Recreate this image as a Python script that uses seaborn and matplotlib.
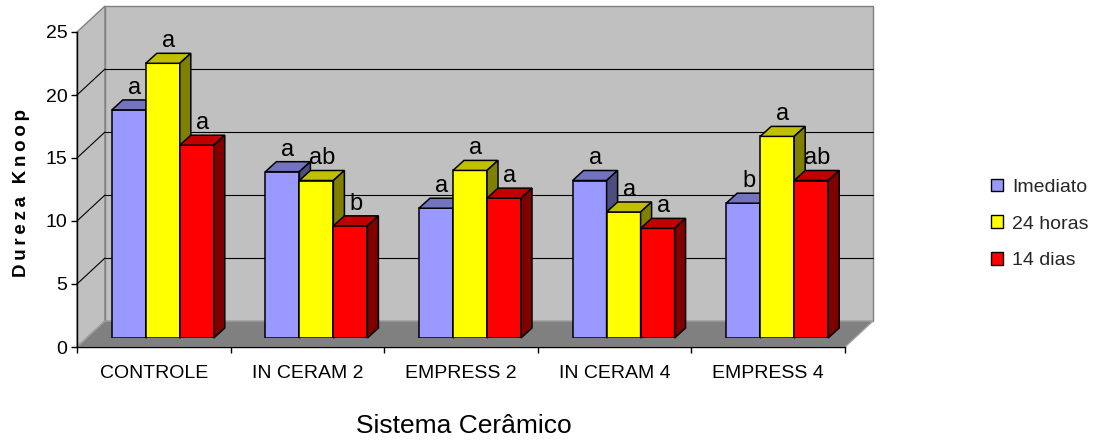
import numpy as np
import pandas as pd
import seaborn as sns
import matplotlib.pyplot as plt
from matplotlib.patches import Polygon, Patch
from matplotlib.ticker import FixedLocator


# Data
sistemas = ['CONTROLE', 'IN CERAM 2', 'EMPRESS 2', 'IN CERAM 4', 'EMPRESS 4']
tempos = ['Imediato', '24 horas', '14 dias']

imediato = [18.1, 13.2, 10.3, 12.5, 10.7]
horas_24 = [21.8, 12.5, 13.3, 10.0, 16.0]
dias_14 = [15.3, 8.9, 11.1, 8.7, 12.5]

letras_imediato = ['a', 'a', 'a', 'a', 'b']
letras_24 = ['a', 'ab', 'a', 'a', 'a']
letras_14 = ['a', 'b', 'a', 'a', 'ab']

valores = {'Imediato': imediato, '24 horas': horas_24, '14 dias': dias_14}
letras = {'Imediato': letras_imediato, '24 horas': letras_24, '14 dias': letras_14}

df = pd.DataFrame(
    [(s, t, valores[t][i]) for t in tempos for i, s in enumerate(sistemas)],
    columns=['sistema', 'tempo', 'dureza']
)

# Excel-like 3D colours: front, top, side
frente = ['#9999FF', '#FFFF00', '#FF0000']
topo_cor = ['#7373BF', '#C0C000', '#C00000']
lado_cor = ['#4D4D80', '#808000', '#800000']

W, H = 1101, 441
DX, DY = 11, 10          # bar depth in pixels
BX, BY = 28, 26          # floor depth in pixels

sns.set_style("white")
plt.rcParams['font.family'] = ['Liberation Sans', 'DejaVu Sans']

fig = plt.figure(figsize=(W / 100, H / 100), dpi=100)


def px_box(left, top, right, bottom):
    return [left / W, 1 - bottom / H, (right - left) / W, (bottom - top) / H]


to_fig = fig.transFigure.inverted()


def face(axis, pts, z, **kw):
    p = Polygon(to_fig.transform(pts), closed=True, transform=fig.transFigure,
                clip_on=False, zorder=z, **kw)
    axis.add_artist(p)


# Front plane: axis lines, ticks, walls
ax_front = fig.add_axes(px_box(77, 32, 845, 347))
ax_front.set_facecolor('none')
ax_front.set_xlim(-0.5, 4.5)
ax_front.set_ylim(0, 25)

tr = ax_front.transData.transform
fl0 = np.array(tr((-0.5, 0)))
fr0 = np.array(tr((4.5, 0)))
fl25 = np.array(tr((-0.5, 25)))
fr25 = np.array(tr((4.5, 25)))
off = np.array([BX, BY])

face(ax_front, [fl0 + off, fr0 + off, fr25 + off, fl25 + off], 0.5,
     facecolor='#C0C0C0', edgecolor='#808080', lw=1)
face(ax_front, [fl0, fl0 + off, fl25 + off, fl25], 0.5,
     facecolor='#C0C0C0', edgecolor='#808080', lw=1)
face(ax_front, [fl0, fr0, fr0 + off, fl0 + off], 0.55,
     facecolor='#808080', edgecolor='#A0A0A0', lw=1)

for v in range(5, 25, 5):
    a = np.array(tr((-0.5, v)))
    b = np.array(tr((4.5, v)))
    ax_front.plot(*to_fig.transform([a + off, b + off]).T, color='black', lw=0.8,
                  transform=fig.transFigure, clip_on=False, zorder=0.6)
    ax_front.plot(*to_fig.transform([a, a + off]).T, color='black', lw=0.8,
                  transform=fig.transFigure, clip_on=False, zorder=0.6)

for side in ['top', 'right']:
    ax_front.spines[side].set_visible(False)
for side in ['left', 'bottom']:
    ax_front.spines[side].set_color('black')
    ax_front.spines[side].set_linewidth(1)

ax_front.set_yticks(range(0, 26, 5))
ax_front.set_xticks(range(len(sistemas)))
ax_front.set_xticklabels(sistemas)
ax_front.xaxis.set_minor_locator(FixedLocator(np.arange(-0.5, 5, 1)))
ax_front.tick_params(axis='x', which='major', bottom=True, length=0, pad=13,
                     labelsize=14, labelcolor='black')
ax_front.tick_params(axis='x', which='minor', bottom=True, length=4, width=1,
                     color='black', direction='out')
ax_front.tick_params(axis='y', left=True, length=4, width=1, color='black',
                     direction='out', pad=3, labelsize=14, labelcolor='black')

# Bars, drawn on a plane a bit behind the front axis
ax = fig.add_axes(px_box(86, 23, 854, 338))
sns.barplot(data=df, x='sistema', y='dureza', hue='tempo', order=sistemas,
            hue_order=tempos, palette=frente, saturation=1, width=0.664,
            edgecolor='black', linewidth=1.1, errorbar=None, legend=False, ax=ax)
ax.set_xlim(-0.5, 4.5)
ax.set_ylim(0, 25)
ax.set_facecolor('none')
ax.axis('off')

barras = sorted(ax.patches, key=lambda p: p.get_x())
for k, barra in enumerate(barras):
    i, j = divmod(k, 3)
    (x0, y0), (x1, y1) = ax.transData.transform(
        [(barra.get_x(), 0), (barra.get_x() + barra.get_width(), barra.get_height())])
    z = 2 + k * 0.01
    barra.set_zorder(z)
    face(ax, [(x0, y1), (x1, y1), (x1 + DX, y1 + DY), (x0 + DX, y1 + DY)], z,
         facecolor=topo_cor[j], edgecolor='black', lw=1.1)
    face(ax, [(x1, y0), (x1 + DX, y0 + DY), (x1 + DX, y1 + DY), (x1, y1)], z,
         facecolor=lado_cor[j], edgecolor='black', lw=1.1)
    fx, fy = to_fig.transform(((x0 + x1) / 2 + DX / 2, y1 + DY + 1))
    fig.text(fx, fy, letras[tempos[j]][i], ha='center', va='bottom',
             fontsize=17, color='black')

# Titles
fig.text(22 / W, 1 - 193 / H, '\u2009'.join('Dureza Knoop'), rotation=90,
         fontsize=13.5, fontweight='bold', ha='center', va='center', color='black')
fig.text(464 / W, 1 - 426 / H, 'Sistema Cerâmico', fontsize=19,
         ha='center', va='center', color='black')

# Legend
handles = [Patch(facecolor=c, edgecolor='black', linewidth=1) for c in frente]
fig.legend(handles, tempos, loc='center left', bbox_to_anchor=(991 / W, 1 - 224 / H),
           frameon=False, fontsize=14, handlelength=0.62, handleheight=0.62,
           handletextpad=0.45, labelspacing=1.0, borderpad=0, borderaxespad=0)

fig.savefig('out.png', dpi=100)
